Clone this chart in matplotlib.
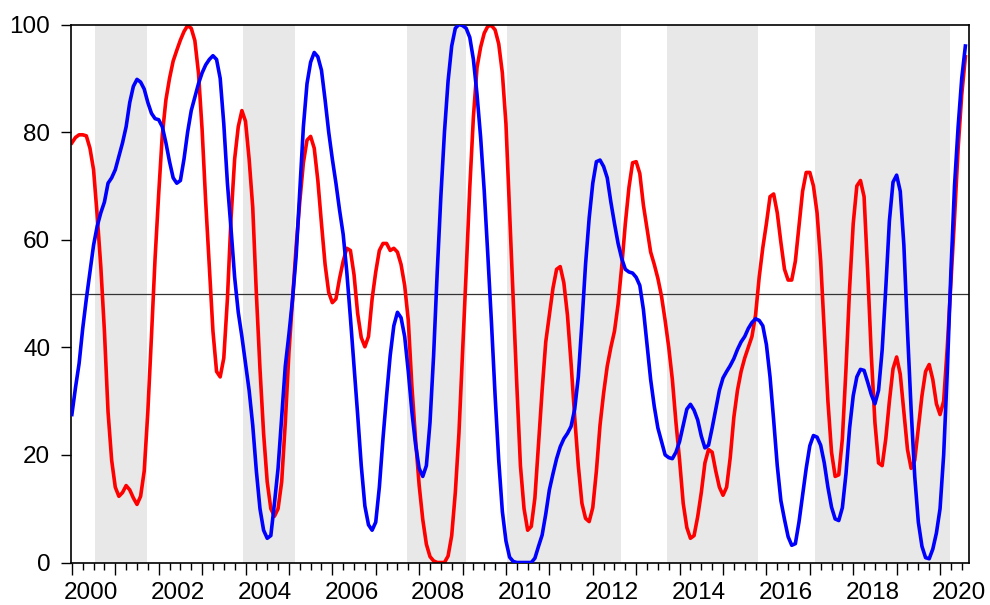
import numpy as np
import matplotlib.pyplot as plt

plt.rcParams["font.family"] = ["Liberation Sans", "DejaVu Sans"]

# monthly series, 2000M01 - 2020M08
start_year = 2000
red = [78, 79, 79.5, 79.5, 79.3, 77, 73, 64.5, 55, 43, 28, 19,
       14, 12.3, 13, 14.3, 13.5, 12, 10.8, 12.3, 17, 28, 42, 56.5,
       68.5, 79.5, 86, 90, 93.2, 95.2, 97.1, 98.7, 99.8, 99.3, 97, 91,
       80.5, 67, 55, 43, 35.5, 34.5, 38, 49, 64, 75, 81, 84,
       82, 75, 66, 50, 36, 24, 15, 10, 8.6, 10, 15, 26,
       39, 49, 58.7, 67, 74.3, 78.5, 79.2, 77, 71, 63, 55.4, 50.2,
       48.3, 49, 52.8, 56, 58.4, 58, 53.5, 46.3, 41.8, 40.1, 42, 49,
       54, 58, 59.3, 59.3, 58, 58.4, 57.7, 55.4, 51.5, 45, 32.7, 23,
       14.4, 8, 3.4, 1.1, 0.3, 0, 0, 0, 1.2, 5, 13, 24,
       39, 54, 69.7, 82.8, 92, 95.8, 98.4, 99.7, 99.8, 99, 96.4, 91,
       81.5, 65, 49, 33, 18, 10, 6, 6.7, 12, 22, 32, 41,
       46, 51, 54.5, 55, 52, 46, 37, 27, 18, 11, 8.2, 7.6,
       10.2, 17, 25.5, 31.5, 36.5, 40, 43, 48, 55, 63, 69.7, 74.3,
       74.5, 72.3, 66.4, 62, 57.7, 55.4, 52.8, 49.5, 45, 40, 34, 26,
       19, 11, 6.5, 4.5, 5, 8.5, 13, 18.5, 21, 20.5, 17, 14,
       12.5, 14, 19.5, 27, 32, 35.5, 38, 40, 42, 46, 53, 58.5,
       63, 68, 68.5, 65, 59.5, 54.5, 52.5, 52.5, 56, 62.5, 69, 72.5,
       72.5, 70, 65, 56, 43, 30, 20.5, 16, 16.3, 23, 36, 51,
       63, 70, 71, 68, 54, 38.5, 26, 18.5, 18, 23, 30, 36,
       38.2, 35, 28, 21, 17.5, 19, 25, 31, 35.5, 36.8, 34, 29.5,
       27.5, 30, 40, 52, 64, 77, 87, 94]
blue = [27.5, 32.5, 37, 43.5, 49, 54, 59, 62.5, 65, 67, 70.5, 71.5,
        73, 75.5, 78, 81, 85.5, 88.5, 89.8, 89.3, 88, 85.5, 83.5, 82.5,
        82.3, 81, 78, 74.5, 71.5, 70.5, 71, 75, 80, 84, 86.5, 89,
        91, 92.5, 93.5, 94.2, 93.5, 90, 81.5, 70.5, 62, 53, 46.5, 42,
        37, 32, 25.5, 17, 10, 6, 4.5, 5, 11, 17.5, 27, 36.5,
        42.4, 48.9, 57, 69, 81, 89, 93, 94.8, 94, 91.5, 86, 80,
        75, 70.5, 65.5, 61, 54, 45.5, 36.5, 27.5, 18, 10.5, 7, 6,
        7.5, 14, 23, 31, 38.5, 44, 46.5, 45.5, 42, 35.5, 28, 22,
        17.5, 16, 18, 26, 38.5, 54, 68, 80, 89.5, 96, 99.3, 100,
        99.8, 99.3, 97.6, 93.5, 87, 79, 69, 57, 44.5, 31, 19, 9.5,
        4, 1, 0.2, 0, 0, 0, 0, 0, 0.8, 3, 5.1, 9,
        13.5, 16.5, 19.3, 21.5, 23, 24, 25.3, 28.5, 34.5, 44.5, 55.4, 64,
        70.5, 74.5, 74.8, 73.6, 71.5, 67, 63, 59.3, 56.5, 54.5, 54, 53.8,
        53, 51.5, 47, 40.5, 34, 29, 25, 22.5, 20, 19.5, 19.3, 20.5,
        22.5, 25.5, 28.5, 29.4, 28.3, 26.5, 23.5, 21.3, 21.8, 25, 28.5, 32,
        34.3, 35.5, 36.6, 37.9, 39.6, 41, 42, 43.5, 44.6, 45.3, 45, 44,
        40.5, 34.5, 26.5, 18, 11.5, 8, 4.8, 3.2, 3.5, 7.5, 12.5, 17.5,
        21.7, 23.6, 23.3, 21.8, 18.5, 14, 10.3, 8.1, 7.8, 10.2, 16.5, 25,
        31, 34.5, 35.9, 35.7, 33.5, 31.2, 29.5, 32, 39.5, 51, 63.5, 70.7,
        72, 69, 59, 43, 28.5, 16, 7.5, 3, 0.9, 0.7, 2.5, 5.5,
        10, 20, 35.5, 54, 70, 81, 90, 96]

# shaded periods (decimal years)
shade_start = [2000.54, 2003.95, 2007.71, 2010.03, 2013.71, 2017.12]
shade_end = [2001.73, 2005.15, 2009.07, 2012.65, 2015.80, 2020.23]
year_labels = list(range(2000, 2021, 2))

t = start_year + np.arange(len(red)) / 12

fig = plt.figure(figsize=(9.9, 6.05), dpi=100)
ax = fig.add_axes([71 / 990, 42.5 / 605, 898 / 990, 538 / 605])

for s, e in zip(shade_start, shade_end):
    ax.axvspan(s, e, color="#e8e8e8", lw=0, zorder=0)
ax.axhline(50, color="#333333", lw=0.9, zorder=1)
ax.plot(t, red, color="#ff0000", lw=2.6, zorder=2)
ax.plot(t, blue, color="#0000ff", lw=2.6, zorder=3)

ax.set_xlim(1999.98, 2020.667)
ax.set_ylim(0, 100)
ax.set_yticks([0, 20, 40, 60, 80, 100])
ax.tick_params(axis="y", direction="out", length=7, width=1, labelsize=17.5, pad=8)

ax.set_xticks(np.arange(2000, 2021))
ax.set_xticks(np.arange(2000, 2020.7, 0.25), minor=True)
ax.set_xticklabels([])
ax.tick_params(axis="x", which="major", direction="out", length=8.5, width=1)
ax.tick_params(axis="x", which="minor", direction="out", length=5, width=1)
for yr in year_labels:
    ax.text(yr + 0.44, -0.037, str(yr), transform=ax.get_xaxis_transform(),
            ha="center", va="top", fontsize=17.5)

for sp in ax.spines.values():
    sp.set_linewidth(1.2)

fig.savefig("out.png", dpi=100)
